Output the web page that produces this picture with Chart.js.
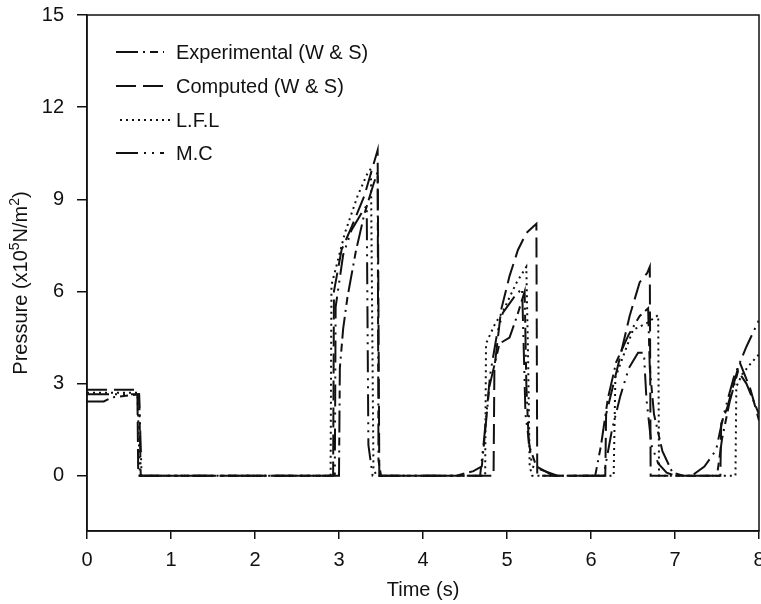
<!DOCTYPE html>
<html>
<head>
<meta charset="utf-8">
<script src="https://cdn.jsdelivr.net/npm/chart.js@4/dist/chart.umd.min.js"></script>
<style>
  body { margin: 0; background: #fff; }
  canvas { display: block; }
</style>
</head>
<body>
<canvas id="pressureChart" width="761" height="604"></canvas>
<script>
// values, time (s) and pressure (x10^5 N/m^2)
var expT = [0, 0.2, 0.3, 0.62, 0.64, 3.0, 3.01, 3.05, 3.1, 3.2, 3.3, 3.4, 3.46, 3.47, 3.5, 4.4, 4.6, 4.7, 4.79, 4.91, 5.03, 5.12, 5.21, 5.23, 5.26, 5.35, 5.55, 6.05, 6.12, 6.2, 6.3, 6.45, 6.58, 6.68, 6.7, 6.75, 6.85, 6.97, 7.1, 7.5, 7.56, 7.65, 7.75, 7.85, 8.0];
var expP = [2.42, 2.42, 2.55, 2.65, 0, 0, 3.5, 4.8, 5.8, 7.3, 8.5, 9.4, 9.9, 0.5, 0, 0, 0.15, 0.3, 2.9, 4.3, 4.5, 5.2, 6.0, 3.0, 1.0, 0.3, 0, 0, 1.0, 2.5, 3.7, 4.6, 5.2, 5.45, 3.5, 2.0, 0.8, 0.1, 0, 0, 1.2, 2.4, 3.4, 3.0, 2.0];

var compT = [0, 0.57, 0.6, 0.61, 2.93, 2.94, 3.03, 3.15, 3.3, 3.46, 3.48, 4.84, 4.85, 4.93, 5.03, 5.13, 5.23, 5.35, 5.36, 6.17, 6.18, 6.26, 6.34, 6.46, 6.58, 6.67, 6.70, 6.71, 7.54, 7.55, 7.62, 7.77, 7.9, 8.0];
var compP = [2.8, 2.8, 2.7, 0, 0, 6.0, 7.35, 8.1, 9.1, 10.6, 0, 0, 3.5, 5.4, 6.5, 7.35, 7.9, 8.2, 0, 0, 2.0, 2.9, 3.8, 5.2, 6.3, 6.6, 6.8, 0, 0, 1.7, 2.2, 3.7, 2.8, 1.8];

var lflT = [0, 0.6, 0.63, 2.9, 2.91, 3.07, 3.22, 3.34, 3.38, 3.41, 3.45, 4.74, 4.75, 4.85, 4.96, 5.11, 5.23, 5.25, 5.27, 5.3, 6.27, 6.29, 6.5, 6.66, 6.8, 6.81, 7.72, 7.73, 7.8, 7.9, 8.0];
var lflP = [2.7, 2.7, 0, 0, 6.2, 7.9, 9.1, 9.85, 10.0, 0.2, 0, 0, 4.3, 4.9, 5.4, 6.27, 6.8, 4.0, 0.3, 0, 0, 3.2, 4.75, 4.96, 5.23, 0, 0, 2.9, 3.3, 3.65, 3.95];

var mcT = [0, 0.62, 0.65, 2.95, 2.96, 3.05, 3.15, 3.28, 3.33, 3.35, 3.4, 4.68, 4.72, 4.8, 4.88, 4.95, 5.08, 5.18, 5.22, 5.3, 5.5, 5.6, 6.15, 6.25, 6.35, 6.45, 6.56, 6.63, 6.66, 6.72, 6.8, 6.9, 7.0, 7.2, 7.35, 7.49, 7.54, 7.6, 7.7, 7.85, 8.0];
var mcP = [2.65, 2.65, 0, 0, 5.5, 7.2, 8.0, 8.6, 8.8, 1.0, 0, 0, 1.0, 3.3, 4.6, 5.3, 5.8, 6.1, 2.0, 0.3, 0.1, 0, 0, 1.5, 2.6, 3.5, 4.0, 4.0, 2.5, 1.0, 0.4, 0.1, 0, 0, 0.3, 0.84, 1.5, 2.2, 3.2, 4.2, 5.07];

var seriesNames = ["Experimental (W & S)", "Computed (W & S)", "L.F.L", "M.C"];
var xTicks = [0, 1, 2, 3, 4, 5, 6, 7, 8];
var yTicks = [0, 3, 6, 9, 12, 15];
// y title pieces: [text, superscript?]
var yTitleParts = [["Pressure (x10", false], ["5", true], ["N/m", false], ["2", true], [")", false]];

var FONT = "'Liberation Sans', Arial, sans-serif";
var INK = '#111';

function toPoints(ts, ps) {
    var pts = [];
    for (var i = 0; i < ts.length; i++) {
        pts.push({x: ts[i], y: ps[i]});
    }
    return pts;
}

function line(label, ts, ps, dash) {
    return {
        label: label,
        data: toPoints(ts, ps),
        showLine: true,
        borderColor: INK,
        borderWidth: 2,
        borderDash: dash,
        pointRadius: 0,
        tension: 0,
        fill: false
    };
}

// legend in the upper left of the plot, drawn by hand
var legendPlugin = {
    id: 'insideLegend',
    afterDraw: function(chart) {
        var ctx = chart.ctx;
        var rows = [52, 86, 120, 153];
        ctx.save();
        chart.data.datasets.forEach(function(ds, i) {
            var y = rows[i];
            ctx.strokeStyle = INK;
            ctx.lineWidth = 2;
            ctx.setLineDash(ds.borderDash);
            ctx.beginPath();
            ctx.moveTo(i == 2 ? 120 : 116, y);
            ctx.lineTo(i == 2 ? 172 : 164, y);
            ctx.stroke();
            ctx.setLineDash([]);
            ctx.fillStyle = INK;
            ctx.font = '20px ' + FONT;
            ctx.textBaseline = 'middle';
            ctx.textAlign = 'left';
            ctx.fillText(ds.label, 176, y + 1);
        });
        ctx.restore();
    }
};

// rotated y title with real superscripts
var yTitlePlugin = {
    id: 'yTitle',
    afterDraw: function(chart) {
        var ctx = chart.ctx;
        var a = chart.chartArea;
        var big = '20px ' + FONT, small = '14px ' + FONT;
        ctx.save();
        var total = 0;
        yTitleParts.forEach(function(p) {
            ctx.font = p[1] ? small : big;
            total += ctx.measureText(p[0]).width;
        });
        ctx.translate(27, (a.top + a.bottom) / 2 + 10);
        ctx.rotate(-Math.PI / 2);
        ctx.fillStyle = INK;
        ctx.textBaseline = 'alphabetic';
        ctx.textAlign = 'left';
        var x = -total / 2;
        yTitleParts.forEach(function(p) {
            ctx.font = p[1] ? small : big;
            ctx.fillText(p[0], x, p[1] ? -8 : 0);
            x += ctx.measureText(p[0]).width;
        });
        ctx.restore();
    }
};

// box round the plot area
var framePlugin = {
    id: 'frame',
    afterDatasetsDraw: function(chart) {
        var a = chart.chartArea;
        var ctx = chart.ctx;
        ctx.save();
        ctx.strokeStyle = INK;
        ctx.lineWidth = 1.5;
        ctx.strokeRect(a.left, a.top, a.right - a.left, a.bottom - a.top);
        ctx.restore();
    }
};

var ctx = document.getElementById("pressureChart");
var chart = new Chart(ctx, {
    type: 'scatter',
    data: {
        datasets: [
            line(seriesNames[0], expT, expP, [22, 5, 2, 5, 8, 5]),
            line(seriesNames[1], compT, compP, [20, 7]),
            line(seriesNames[2], lflT, lflP, [2, 4]),
            line(seriesNames[3], mcT, mcP, [22, 6, 2, 6, 2, 6])
        ]
    },
    options: {
        responsive: false,
        animation: false,
        layout: { padding: { top: 15, right: 2, left: 0, bottom: 0 } },
        plugins: {
            legend: { display: false },
            tooltip: { enabled: false }
        },
        scales: {
            x: {
                type: 'linear',
                min: 0,
                max: 8,
                afterBuildTicks: function(s) { s.ticks = xTicks.map(function(v) { return {value: v}; }); },
                afterFit: function(s) { s.height = 73; s.paddingLeft = 0; s.paddingRight = 0; },
                grid: { drawOnChartArea: false, drawTicks: true, tickLength: 8, color: INK, lineWidth: 1.5 },
                border: { display: true, color: INK, width: 1.5 },
                ticks: { color: INK, font: { family: FONT, size: 20 }, padding: 9, maxRotation: 0 },
                title: { display: true, text: 'Time (s)', color: INK, font: { family: FONT, size: 20 }, padding: { top: 0, bottom: 2 } }
            },
            y: {
                type: 'linear',
                min: -1.8,
                max: 15,
                afterBuildTicks: function(s) { s.ticks = yTicks.map(function(v) { return {value: v}; }); },
                afterFit: function(s) { s.width = 87; s.paddingTop = 0; s.paddingBottom = 0; },
                grid: { drawOnChartArea: false, drawTicks: true, tickLength: 10, color: INK, lineWidth: 1.5 },
                border: { display: true, color: INK, width: 1.5 },
                ticks: { color: INK, font: { family: FONT, size: 20 }, padding: 13 },
                title: { display: false }
            }
        }
    },
    plugins: [legendPlugin, yTitlePlugin, framePlugin]
});
</script>
</body>
</html>
